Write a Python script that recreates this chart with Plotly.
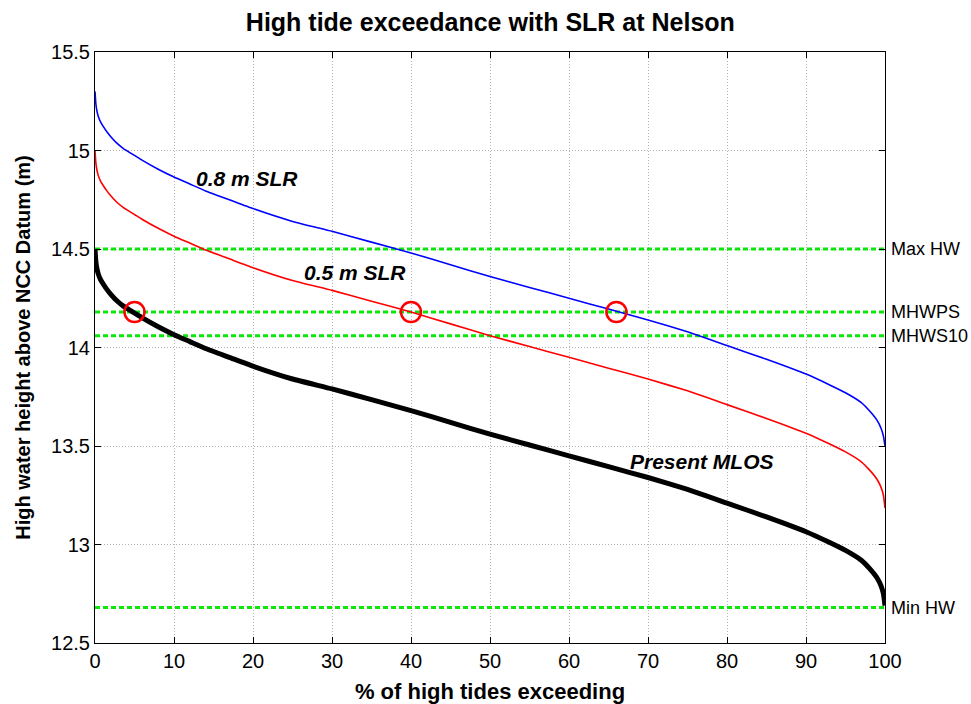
import plotly.graph_objects as go

# Exceedance percentage (x) and high-water heights (m above NCC Datum)
pct = [0, 0.1, 0.2, 0.4, 0.7, 1, 1.5, 2, 2.7, 3.6, 5, 6, 8, 10, 12, 14, 17, 20,
       25, 30, 35, 40, 45, 50, 55, 60, 65, 70, 75, 80, 85, 90, 93, 95, 97, 98,
       99, 99.5, 99.8, 100]
present_mlos = [14.50, 14.44, 14.41, 14.375, 14.345, 14.325, 14.295, 14.27, 14.24,
                14.21, 14.175, 14.15, 14.105, 14.065, 14.03, 13.995, 13.95, 13.905,
                13.84, 13.79, 13.735, 13.68, 13.62, 13.56, 13.505, 13.45, 13.395,
                13.34, 13.28, 13.21, 13.14, 13.065, 13.01, 12.97, 12.92, 12.88,
                12.83, 12.79, 12.75, 12.69]
slr_05 = [15.00, 14.94, 14.91, 14.875, 14.845, 14.825, 14.795, 14.77, 14.74,
          14.71, 14.675, 14.65, 14.605, 14.565, 14.53, 14.495, 14.45, 14.405,
          14.34, 14.29, 14.235, 14.18, 14.12, 14.06, 14.005, 13.95, 13.895,
          13.84, 13.78, 13.71, 13.64, 13.565, 13.51, 13.47, 13.42, 13.38,
          13.33, 13.29, 13.25, 13.185]
slr_08 = [15.30, 15.24, 15.21, 15.175, 15.145, 15.125, 15.095, 15.07, 15.04,
          15.01, 14.975, 14.95, 14.905, 14.865, 14.83, 14.795, 14.75, 14.705,
          14.64, 14.59, 14.535, 14.48, 14.42, 14.36, 14.305, 14.25, 14.195,
          14.14, 14.08, 14.01, 13.94, 13.865, 13.81, 13.77, 13.72, 13.68,
          13.63, 13.59, 13.55, 13.50]

# Reference levels
level_names = ["Max HW", "MHWPS", "MHWS10", "Min HW"]
level_values = [14.50, 14.18, 14.06, 12.68]

# Crossing points with MHWPS
cross_x = [5, 40, 66]
cross_y = [14.18, 14.18, 14.18]

x_ticks = [0, 10, 20, 30, 40, 50, 60, 70, 80, 90, 100]
y_ticks = [12.5, 13, 13.5, 14, 14.5, 15, 15.5]

FONT = "Liberation Sans, Arial, sans-serif"
GREEN = "#0be60b"

fig = go.Figure()

for v in level_values:
    fig.add_trace(go.Scatter(x=[0, 100], y=[v, v], mode="lines",
                             line=dict(color=GREEN, width=3, dash="5px,3px"),
                             hoverinfo="skip", showlegend=False))

fig.add_trace(go.Scatter(x=pct, y=slr_08, mode="lines",
                         line=dict(color="#0000ff", width=1.6, shape="spline",
                                   smoothing=0.4), showlegend=False))
fig.add_trace(go.Scatter(x=pct, y=slr_05, mode="lines",
                         line=dict(color="#ff0000", width=1.6, shape="spline",
                                   smoothing=0.4), showlegend=False))
fig.add_trace(go.Scatter(x=pct, y=present_mlos, mode="lines",
                         line=dict(color="#000000", width=5, shape="spline",
                                   smoothing=0.4), showlegend=False))

fig.add_trace(go.Scatter(x=cross_x, y=cross_y, mode="markers",
                         marker=dict(symbol="circle-open", size=20, color="#ff0000",
                                     line=dict(color="#ff0000", width=2.5)),
                         showlegend=False))

annotations = []
for name, v in zip(level_names, level_values):
    annotations.append(dict(x=1.0, xref="paper", y=v, yref="y", text=name,
                            xanchor="left", xshift=4, showarrow=False,
                            font=dict(family=FONT, size=18, color="black")))

curve_labels = [("0.8 m SLR", 19.2, 14.86), ("0.5 m SLR", 32.9, 14.38),
                ("Present MLOS", 76.8, 13.42)]
for txt, xx, yy in curve_labels:
    annotations.append(dict(x=xx, y=yy, xref="x", yref="y",
                            text=f"<b><i>{txt}</i></b>", showarrow=False,
                            font=dict(family=FONT, size=21, color="black")))

fig.update_layout(
    width=971, height=704,
    margin=dict(l=95, r=86, t=52, b=61),
    paper_bgcolor="white", plot_bgcolor="white",
    title=dict(text="<b>High tide exceedance with SLR at Nelson</b>",
               x=0.505, xanchor="center", y=0.969, yanchor="middle",
               font=dict(family=FONT, size=25, color="black")),
    annotations=annotations,
    font=dict(family=FONT, color="black"),
)

fig.update_xaxes(range=[0, 100], tickvals=x_ticks, ticks="inside", ticklen=6,
                 tickcolor="black", showline=True, linecolor="black", linewidth=1,
                 mirror="ticks", showgrid=True, gridcolor="#b4b4b4",
                 griddash="1px,2px", gridwidth=1, zeroline=False, automargin=False,
                 tickfont=dict(family=FONT, size=20, color="black"),
                 title=dict(text="<b>% of high tides exceeding</b>", standoff=13,
                            font=dict(family=FONT, size=22, color="black")))
fig.update_yaxes(range=[12.5, 15.5], tickvals=y_ticks, ticks="inside", ticklen=6,
                 tickcolor="black", showline=True, linecolor="black", linewidth=1,
                 mirror="ticks", showgrid=True, gridcolor="#b4b4b4",
                 griddash="1px,2px", gridwidth=1, zeroline=False, automargin=False,
                 tickfont=dict(family=FONT, size=20, color="black"),
                 title=dict(text="<b>High water height above NCC Datum (m)</b>",
                            standoff=15,
                            font=dict(family=FONT, size=20, color="black")))

fig.write_html("out.html")
